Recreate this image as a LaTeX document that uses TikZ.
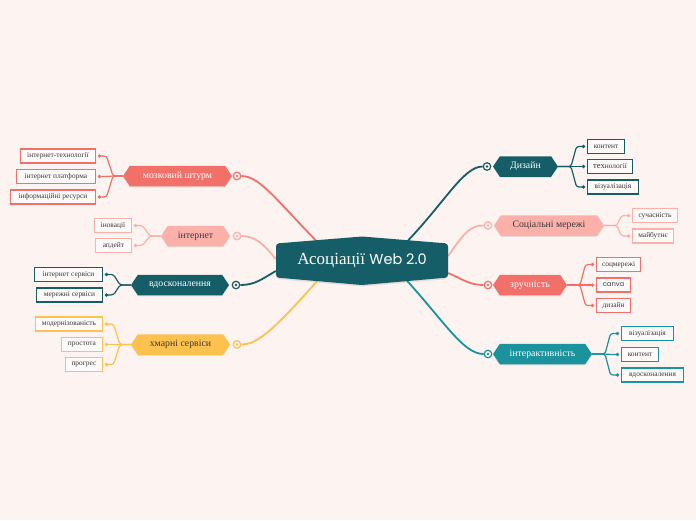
\documentclass[tikz,border=0pt]{standalone}
\usepackage{fontspec}
\setmainfont{Liberation Serif}
\newfontfamily\popp{Poppins}
\usetikzlibrary{shapes.symbols,shadows}
\definecolor{bgc}{HTML}{FDF3F0}
\definecolor{tealD}{HTML}{155E67}
\definecolor{coral}{HTML}{F1706A}
\definecolor{pinkL}{HTML}{FBB0AA}
\definecolor{yel}{HTML}{FDC14F}
\definecolor{tealM}{HTML}{1A939C}
\definecolor{txt}{HTML}{3A3A3A}
\pgfdeclarelayer{back}
\pgfdeclarelayer{lines}
\pgfsetlayers{back,lines,main}
\tikzset{
  mainhex/.style={signal, signal to=west and east, signal pointer angle=112,
    inner sep=0pt, minimum height=20.5pt, font=\fontsize{9.8}{10}\selectfont,
    drop shadow={opacity=0.18, shadow xshift=0pt, shadow yshift=-1.2pt}},
  childbox/.style={draw, fill=white!60!bgc, line width=1.1pt, inner sep=0pt,
    minimum height=14pt, font=\fontsize{7.4}{8}\selectfont, text=txt},
  mainline/.style={line width=1.8pt},
  subline/.style={line width=1.2pt, rounded corners=2.5pt},
  marker/.style={circle, draw, line width=1.2pt, fill=bgc, inner sep=0pt, minimum size=7.5pt},
}
\begin{document}
\begin{tikzpicture}[x=1pt,y=-1pt]
\begin{pgfonlayer}{back}
\fill[bgc] (0,0) rectangle (696,520);
\end{pgfonlayer}
\useasboundingbox (0,0) rectangle (696,520);

% central
\fill[tealD, rounded corners=3pt, drop shadow={opacity=0.2, shadow xshift=0pt, shadow yshift=-1.5pt}]
  (276,243.5) -- (362,236.5) -- (448,243.5) -- (448,277.5) -- (362,285) -- (276,277.5) -- cycle;
\node[minimum width=172pt, minimum height=40pt, inner sep=0pt, text=white, font=\fontsize{17}{18}\selectfont] (c) at (362,261) {Асоціації {\popp\fontsize{14.5}{18}\selectfont Web 2.0}};

% ===== main branches
\node[mainhex, fill=coral, text=white, minimum width=109pt] (mz) at (177.5,176) {мозковий штурм};
\node[mainhex, fill=pinkL, text=txt, minimum width=69pt] (in) at (195.5,236) {інтернет};
\node[mainhex, fill=tealD, text=white, minimum width=98pt] (vd) at (180,285) {вдосконалення};
\node[mainhex, fill=yel, text=txt, minimum width=99pt] (hm) at (180.5,344.5) {хмарні сервіси};
\node[mainhex, fill=tealD, text=white, minimum width=65pt] (dz) at (525.5,166.5) {Дизайн};
\node[mainhex, fill=pinkL, text=txt, minimum width=110pt] (sm) at (549,225.5) {Соціальні мережі};
\node[mainhex, fill=coral, text=white, minimum width=74pt] (zr) at (530,285) {зручність};
\node[mainhex, fill=tealM, text=white, minimum width=99pt] (ia) at (542.5,354) {інтерактивність};

% markers
\node[marker, draw=coral] (mzc) at (237,176) {};
\node[marker, draw=pinkL] (inc) at (237,236) {};
\node[marker, draw=tealD] (vdc) at (236,285) {};
\node[marker, draw=yel] (hmc) at (237,344.5) {};
\node[marker, draw=tealD] (dzc) at (487,166.5) {};
\node[marker, draw=pinkL] (smc) at (488,225.5) {};
\node[marker, draw=coral] (zrc) at (488,285) {};
\node[marker, draw=tealM] (iac) at (488,354) {};
\foreach \n/\col in {mzc/coral,inc/pinkL,vdc/tealD,hmc/yel,dzc/tealD,smc/pinkL,zrc/coral,iac/tealM}
  \fill[\col] (\n.center) circle (1.3pt);

% main connectors
\begin{pgfonlayer}{lines}
\draw[mainline, coral] (mzc.east) .. controls (260,176) and (276,200) .. ([xshift=-38pt,yshift=-8pt]c.north);
\draw[mainline, pinkL] (inc.east) .. controls (256,236) and (264,245) .. ([yshift=2pt]c.west);
\draw[mainline, tealD] (vdc.east) .. controls (255,285) and (262,279) .. ([yshift=-10pt]c.west);
\draw[mainline, yel] (hmc.east) .. controls (258,344.5) and (276,328) .. ([xshift=-38pt,yshift=8pt]c.south);
\draw[mainline, tealD] ([xshift=40pt,yshift=-6pt]c.north) .. controls (445,203) and (463,166.5) .. (dzc.west);
\draw[mainline, pinkL] ([yshift=5pt]c.east) .. controls (464,233) and (470,225.5) .. (smc.west);
\draw[mainline, coral] ([yshift=-12pt]c.east) .. controls (464,280) and (470,285) .. (zrc.west);
\draw[mainline, tealM] ([xshift=40pt,yshift=6pt]c.south) .. controls (445,322) and (463,354) .. (iac.west);
\end{pgfonlayer}

% ===== children, left
% мозковий штурм
\node[childbox, draw=coral, minimum width=75pt, anchor=east] (m1) at (96,156) {інтернет-технології};
\node[childbox, draw=coral, minimum width=79pt, anchor=east] (m2) at (96,176.5) {інтернет платформа};
\node[childbox, draw=coral, minimum width=85pt, anchor=east] (m3) at (96,197) {інформаційні ресурси};
\coordinate (mzb) at (113,176);
\foreach \k in {m1,m2,m3} {
  \coordinate (\k d) at ([xshift=3.5pt]\k.east);
  \draw[subline, coral] (mz.west) -- (mzb) -- ([xshift=7pt]\k d) -- (\k d);
  \fill[coral] (\k d) circle (1.8pt);
}
% інтернет
\node[childbox, draw=pinkL, minimum width=37pt, anchor=east] (i1) at (132,225.5) {іновації};
\node[childbox, draw=pinkL, minimum width=36pt, anchor=east] (i2) at (132,245.5) {апдейт};
\coordinate (inb) at (150,236);
\foreach \k in {i1,i2} {
  \coordinate (\k d) at ([xshift=3.5pt]\k.east);
  \draw[subline, pinkL] (in.west) -- (inb) -- ([xshift=7pt]\k d) -- (\k d);
  \fill[pinkL] (\k d) circle (1.8pt);
}
% вдосконалення
\node[childbox, draw=tealD, minimum width=68pt, anchor=east] (v1) at (103,274.5) {інтернет сервіси};
\node[childbox, draw=tealD, minimum width=66pt, anchor=east] (v2) at (103,295) {мережні сервіси};
\coordinate (vdb) at (120,285);
\foreach \k in {v1,v2} {
  \coordinate (\k d) at ([xshift=3.5pt]\k.east);
  \draw[subline, tealD] (vd.west) -- (vdb) -- ([xshift=7pt]\k d) -- (\k d);
  \fill[tealD] (\k d) circle (1.8pt);
}
% хмарні сервіси
\node[childbox, draw=yel, minimum width=67pt, anchor=east] (h1) at (103,324) {модернізованість};
\node[childbox, draw=yel, minimum width=41pt, anchor=east] (h2) at (103,344.5) {простота};
\node[childbox, draw=yel, minimum width=37pt, anchor=east] (h3) at (103,364.5) {прогрес};
\coordinate (hmb) at (120,344.5);
\foreach \k in {h1,h2,h3} {
  \coordinate (\k d) at ([xshift=3.5pt]\k.east);
  \draw[subline, yel] (hm.west) -- (hmb) -- ([xshift=7pt]\k d) -- (\k d);
  \fill[yel] (\k d) circle (1.8pt);
}

% ===== children, right
% Дизайн
\node[childbox, draw=tealD, minimum width=37pt, anchor=west] (d1) at (587,146.5) {контент};
\node[childbox, draw=tealD, minimum width=45pt, anchor=west] (d2) at (587,166.5) {{\fontsize{8.6}{8}\selectfont тех}нології};
\node[childbox, draw=tealD, minimum width=51pt, anchor=west] (d3) at (587,187) {візуалізація};
\coordinate (dzb) at (571,166.5);
\foreach \k in {d1,d2,d3} {
  \coordinate (\k d) at ([xshift=-3.5pt]\k.west);
  \draw[subline, tealD] (dz.east) -- (dzb) -- ([xshift=-7pt]\k d) -- (\k d);
  \fill[tealD] (\k d) circle (1.8pt);
}
% Соціальні мережі
\node[childbox, draw=pinkL, minimum width=45pt, anchor=west] (s1) at (632,215.5) {сучасність};
\node[childbox, draw=pinkL, minimum width=41pt, anchor=west] (s2) at (632,236) {майбутнє};
\coordinate (smb) at (617,225.5);
\foreach \k in {s1,s2} {
  \coordinate (\k d) at ([xshift=-3.5pt]\k.west);
  \draw[subline, pinkL] (sm.east) -- (smb) -- ([xshift=-7pt]\k d) -- (\k d);
  \fill[pinkL] (\k d) circle (1.8pt);
}
% зручність
\node[childbox, draw=coral, minimum width=44pt, anchor=west] (z1) at (596,264.5) {соцмережі};
\node[childbox, draw=coral, minimum width=34pt, anchor=west] (z2) at (596,285) {{\popp\fontsize{6.8}{7}\selectfont canva}};
\node[childbox, draw=coral, minimum width=34pt, anchor=west] (z3) at (596,305.5) {дизайн};
\coordinate (zrb) at (580,285);
\foreach \k in {z1,z2,z3} {
  \coordinate (\k d) at ([xshift=-3.5pt]\k.west);
  \draw[subline, coral] (zr.east) -- (zrb) -- ([xshift=-7pt]\k d) -- (\k d);
  \fill[coral] (\k d) circle (1.8pt);
}
% інтерактивність
\node[childbox, draw=tealM, minimum width=52pt, anchor=west] (a1) at (621,333.5) {візуалізація};
\node[childbox, draw=tealM, minimum width=37pt, anchor=west] (a2) at (621,354.5) {контент};
\node[childbox, draw=tealM, minimum width=62pt, anchor=west] (a3) at (621,375) {вдосконалення};
\coordinate (iab) at (605,354);
\foreach \k in {a1,a2,a3} {
  \coordinate (\k d) at ([xshift=-3.5pt]\k.west);
  \draw[subline, tealM] (ia.east) -- (iab) -- ([xshift=-7pt]\k d) -- (\k d);
  \fill[tealM] (\k d) circle (1.8pt);
}
\end{tikzpicture}
\end{document}
